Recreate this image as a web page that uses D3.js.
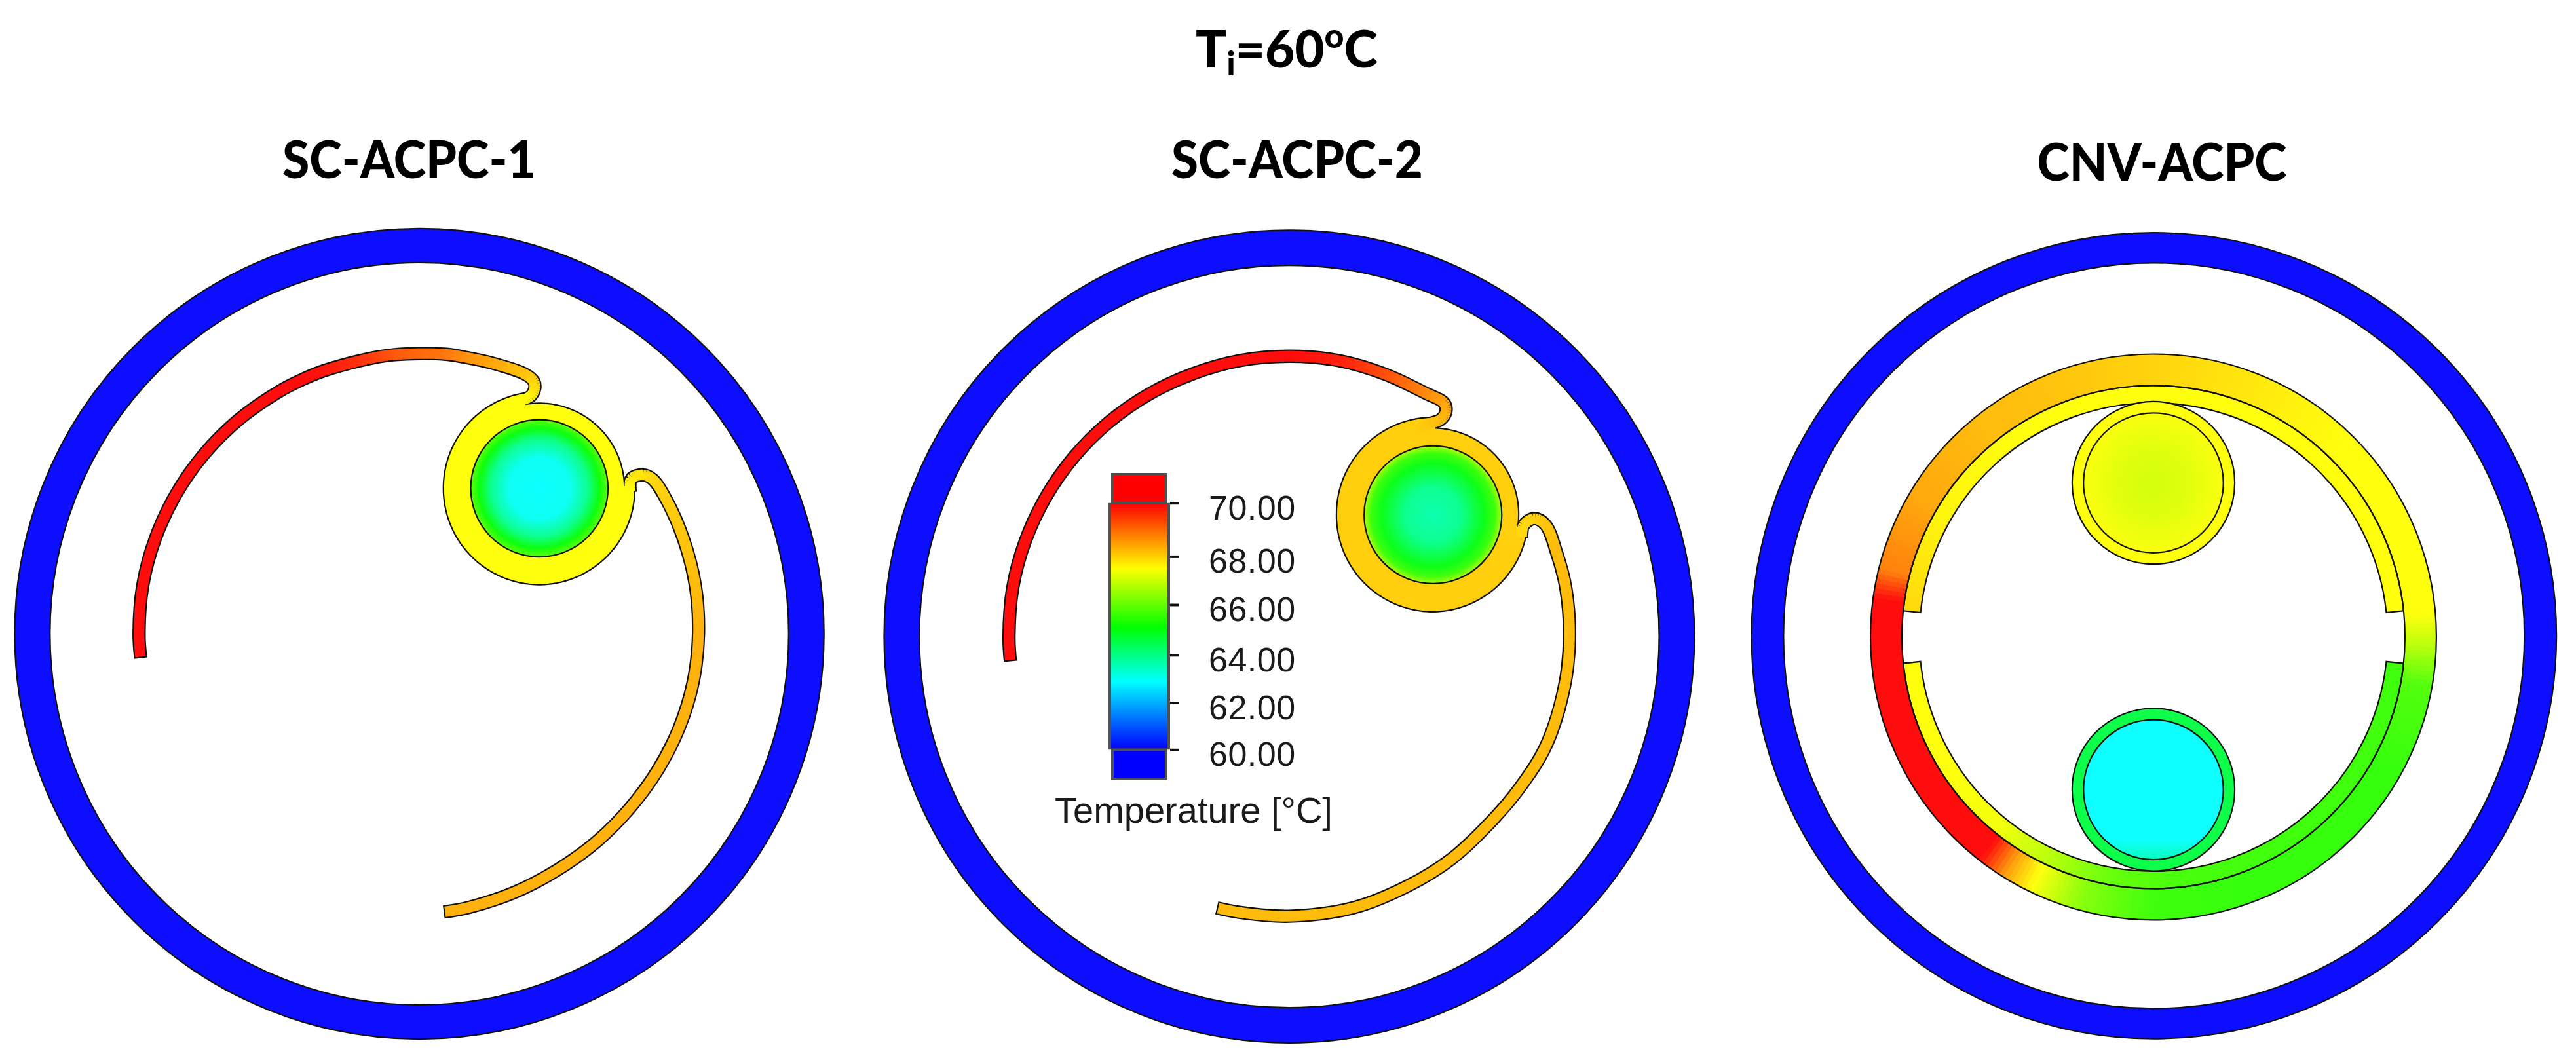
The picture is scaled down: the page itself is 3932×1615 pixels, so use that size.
<!DOCTYPE html>
<html><head><meta charset="utf-8">
<script src="https://cdn.jsdelivr.net/npm/d3@7"></script>
<style>html,body{margin:0;padding:0;background:#fff}svg{display:block}</style>
</head><body><svg id="c" width="3932" height="1615"></svg>
<script>
// ---------- text ----------
const panelTitles = ["SC-ACPC-1", "SC-ACPC-2", "CNV-ACPC"];
const legendTicks = [60, 62, 64, 66, 68, 70];
const legendTitle = "Temperature [°C]";
// ---------- temperature colour map ----------
const colourTemps = [60, 62.9, 65.1, 67.5, 70];
const colourNames = ["#0000ff", "#00ffff", "#00ff00", "#ffff00", "#ff0000"];
// ---------- geometry, in crop units (1568 = one panel crop) ----------
// outer cover: centre x, centre y, outer rx, outer ry, inner rx, inner ry
const coverP1 = [772, 784, 745, 749, 680, 686];
const coverP2 = [781.5, 789, 746, 751, 681, 686];
const coverP3 = [791, 787.5, 741, 745, 682, 689];
// fins about the cover centre: [degrees clockwise from top, radius, temperature]
const finP1Left = [[-95,515,70],[-90,516,70],[-80,517,70],[-70,517,70],[-60,517,70],[-50,517,70],[-40,517,70],[-30,517,70],[-25,517,70],[-20,517,69.9],[-10,517,69.5],[-5,518,69.2],[5,519,68.9],[10,518,68.6],[15,518,68.4],[22,518,68.1],[24.3,512,67.9],[25.1,501,67.8],[25,484.5,67.6],[23,467,67.5],[21.1,452,67.5]];
const finP1Right = [[56.1,468,67.5],[53.7,484,67.7],[54.5,506,67.8],[56.4,516,67.9],[61.3,518,68],[70,517,68.1],[80,516,68.2],[90,514,68.3],[100,512,68.3],[110,509,68.3],[120,506,68.3],[130,504,68.3],[140,504,68.3],[150,505,68.3],[160,509,68.3],[170,514,68.3],[175,516,68.3]];
const finP2Left = [[-95.1,515.5,70],[-90,516,70],[-80,517,70],[-70,517,70],[-60,517,70],[-50,517,70],[-40,517,70],[-30,517,70],[-20,517,70],[-10,518,70],[0,518,70],[10,518,69.8],[20,516,69.3],[29,515,68.7],[33.5,517,68.4],[34.8,505,68.3],[34.8,488,68.2],[33.3,471,68.1],[31.5,447,68]];
const finP2Right = [[67,465,67.9],[64.5,478,67.9],[64.2,501,68],[66.4,515,68.1],[72.6,516,68.2],[80,517,68.2],[90,516,68.2],[100,515,68.2],[113,514,68.2],[123.6,508,68.2],[133,505,68.2],[144,508,68.2],[154.6,510,68.2],[166.7,515,68.2],[180,517,68.2],[190,518,68.2],[194.9,519,68.2]];
// wrapped tube outline: [degrees clockwise from top, radius]
const wrapP1 = [[-9,157],[88,157],[88.01,176],[180,178],[270,177],[350.99,178],[351,157]];
const wrapP2 = [[2,160],[98,158],[98.01,176],[180,179],[270,178],[361.99,180],[362,160]];
// tube: centre x, centre y, inner radius, wrap temperature
const tubeP1 = [993, 515, 126.6, 67.5];
const tubeP2 = [1046, 564, 127, 68];
// water section: [relative radius, temperature]
const waterP1 = [[0,62.9],[0.45,63],[0.7,63.9],[0.88,65.1],[1,65.9]];
const waterP2 = [[0,63.6],[0.4,63.9],[0.75,65],[0.9,65.6],[1,66.7]];
// CNV receiver: centre, absorber radii, [degrees clockwise from top, temperature]
const cnvCentre = [790, 790];
const cnvAbsorberRadii = [464, 522];
const cnvFinRadii = [432, 464];
const cnvAbsorberField = [[0,67.95],[25,67.7],[45,67.5],[85,67.5],[92,66.8],[100,65.8],[120,65.5],[160,65.5],[180,65.6],[195,66.3],[206,67.5],[212,68.5],[218,70],[278,70],[284,68.8],[300,68.4],[320,68.2],[340,68.1],[360,67.95]];
const cnvFinField = [[-84,67.9],[-60,67.6],[-30,67.5],[84,67.5],[96,65.6],[150,65.6],[175,65.7],[190,66],[205,66.8],[220,67.4],[240,67.5],[264,67.5]];
const cnvFinArcs = [[-84,84],[96,264]];
// CNV tubes: centre x, centre y, outer r, inner r, wall temperature
const cnvTubeTop = [790, 505, 150, 129, 67.5];
const cnvTubeBottom = [790, 1072, 150, 129, 64.55];
const cnvWaterTop = [[0,67.05],[0.5,67.2],[1,67.45]];
const cnvWaterBottom = [[0,62.9],[0.85,62.9],[1,63.5]];
// legend tick pixel rows as they appear in the picture
const legendRows = [1144.3, 1072.5, 999.8, 923, 849.4, 767.7];

// ---------- scales ----------
const colour = d3.scaleLinear().domain(colourTemps).range(colourNames).interpolate(d3.interpolateRgb).clamp(true);
const field = t => d3.interpolateRgb(colour(t), "#ffffff")(0.05);
const panelX = [0, 1320, 2632].map(x0 => d3.scaleLinear().domain([0,1568]).range([x0, x0+1300]));
const panelY = d3.scaleLinear().domain([0,1568]).range([320, 320+1295]);
const rad = d3.scaleLinear().domain([0,1568]).range([0,1297.5]);
const radX = d3.scaleLinear().domain([0,1568]).range([0,1300]);
const radY = d3.scaleLinear().domain([0,1568]).range([0,1295]);
const legendY = d3.scaleLinear().domain(legendTicks).range(legendRows);

const svg = d3.select("#c");
const defs = svg.append("defs");
svg.append("rect").attr("width",3932).attr("height",1615).attr("fill","#fff");

const OUT = 2.2;
function radial(id, stops){
  const g = defs.append("radialGradient").attr("id",id);
  stops.forEach(s => g.append("stop").attr("offset",s[0]).attr("stop-color",field(s[1])));
  return `url(#${id})`;
}
function cover(g, c, px){
  g.append("ellipse").attr("cx",px(c[0])).attr("cy",panelY(c[1])).attr("rx",radX(c[2])).attr("ry",radY(c[3]))
    .attr("fill",field(60)).attr("stroke","#111").attr("stroke-width",OUT);
  g.append("ellipse").attr("cx",px(c[0])).attr("cy",panelY(c[1])).attr("rx",radX(c[4])).attr("ry",radY(c[5]))
    .attr("fill","#fff").attr("stroke","#111").attr("stroke-width",OUT);
}
// polar fin knot -> [page x, page y, temperature]
function finPoints(knots, cov, px){
  return knots.map(k=>{
    const p = d3.pointRadial(k[0]*Math.PI/180, k[1]);
    return [px(cov[0]+p[0]), panelY(cov[1]+p[1]), k[2]];
  });
}
const finLine = d3.line().x(d=>d[0]).y(d=>d[1]).curve(d3.curveCatmullRom.alpha(0.5));
function finUnder(g, pts, w){
  g.append("path").attr("d",finLine(pts)).attr("fill","none").attr("stroke","#111")
    .attr("stroke-width",w+OUT*2).attr("stroke-linejoin","round");
}
function finColour(g, pts, w){
  const p = g.append("path").attr("d",finLine(pts)).attr("fill","none").attr("stroke","none");
  const node = p.node(), L = node.getTotalLength();
  let acc = 0; const cum = pts.map((d,i)=>{ if(i) acc += Math.hypot(d[0]-pts[i-1][0], d[1]-pts[i-1][1]); return acc; });
  const tAt = d3.scaleLinear().domain(cum.map(c=>c/acc)).range(pts.map(d=>d[2]));
  const step = 3, segs = d3.range(OUT, L-OUT, step);
  g.selectAll(null).data(segs).join("line")
    .each(function(s){
      const a = node.getPointAtLength(s), b = node.getPointAtLength(Math.min(s+step+0.8, L-OUT));
      d3.select(this).attr("x1",a.x).attr("y1",a.y).attr("x2",b.x).attr("y2",b.y)
        .attr("stroke",field(tAt(s/L))).attr("stroke-width",w);
    });
  p.remove();
}
function wrappedTube(g, tube, wrap, px){
  const rAt = d3.scaleLinear().domain(wrap.map(d=>d[0])).range(wrap.map(d=>d[1]));
  const a0 = wrap[0][0], a1 = wrap[wrap.length-1][0];
  const angles = d3.range(a0, a1, 1).concat(wrap.map(d=>d[0])).sort(d3.ascending);
  const line = d3.lineRadial().angle(a=>a*Math.PI/180).radius(a=>rad(rAt(a))).curve(d3.curveLinear);
  g.append("path").attr("transform",`translate(${px(tube[0])},${panelY(tube[1])})`)
    .attr("d",line(angles)+"Z").attr("fill",field(tube[3])).attr("stroke","#111").attr("stroke-width",OUT);
}
function waterCircle(g, tube, px, fill){
  g.append("circle").attr("cx",px(tube[0])).attr("cy",panelY(tube[1])).attr("r",rad(tube[2]))
    .attr("fill",fill).attr("stroke","#111").attr("stroke-width",OUT);
}
function scPanel(i, cov, left, right, wrap, tube, water, w){
  const px = panelX[i], g = svg.append("g");
  const L = finPoints(left, cov, px), R = finPoints(right, cov, px);
  cover(g, cov, px);
  finUnder(g, L, w); finUnder(g, R, w);
  wrappedTube(g, tube, wrap, px);
  finColour(g, L, w); finColour(g, R, w);
  waterCircle(g, tube, px, radial("water"+i, water));
}
scPanel(0, coverP1, finP1Left, finP1Right, wrapP1, tubeP1, waterP1, 16);
scPanel(1, coverP2, finP2Left, finP2Right, wrapP2, tubeP2, waterP2, 16);

// ---------- CNV panel ----------
(function(){
  const px = panelX[2], g = svg.append("g");
  cover(g, coverP3, px);
  const gc = g.append("g").attr("transform",`translate(${px(cnvCentre[0])},${panelY(cnvCentre[1])})`);
  const deg = d => d*Math.PI/180;
  const arc = d3.arc();
  const aT = d3.scaleLinear().domain(cnvAbsorberField.map(d=>d[0])).range(cnvAbsorberField.map(d=>d[1]));
  const fT = d3.scaleLinear().domain(cnvFinField.map(d=>d[0])).range(cnvFinField.map(d=>d[1]));
  gc.selectAll(null).data(d3.range(0,360,1)).join("path")
    .attr("d",a=>arc({innerRadius:rad(cnvAbsorberRadii[0]),outerRadius:rad(cnvAbsorberRadii[1]),startAngle:deg(a),endAngle:deg(a+1.25)}))
    .attr("fill",a=>field(aT(a+0.5)));
  cnvFinArcs.forEach(span=>{
    gc.selectAll(null).data(d3.range(span[0],span[1],1)).join("path")
      .attr("d",a=>arc({innerRadius:rad(cnvFinRadii[0]),outerRadius:rad(cnvFinRadii[1]),startAngle:deg(a),endAngle:deg(Math.min(a+1.25,span[1]))}))
      .attr("fill",a=>field(fT(a+0.5)));
    gc.append("path").attr("d",arc({innerRadius:rad(cnvFinRadii[0]),outerRadius:rad(cnvFinRadii[1]),startAngle:deg(span[0]),endAngle:deg(span[1])}))
      .attr("fill","none").attr("stroke","#111").attr("stroke-width",OUT);
  });
  cnvAbsorberRadii.forEach(r=>gc.append("circle").attr("r",rad(r)).attr("fill","none").attr("stroke","#111").attr("stroke-width",OUT));
  [[cnvTubeTop,cnvWaterTop,"wt"],[cnvTubeBottom,cnvWaterBottom,"wb"]].forEach(([t,w,id])=>{
    g.append("circle").attr("cx",px(t[0])).attr("cy",panelY(t[1])).attr("r",rad(t[2]))
      .attr("fill",field(t[4])).attr("stroke","#111").attr("stroke-width",OUT);
    let fill;
    if(id==="wt") fill = radial(id,w);
    else { const lg = defs.append("linearGradient").attr("id",id).attr("x1",0).attr("x2",0).attr("y1",0).attr("y2",1);
      w.forEach(s=>lg.append("stop").attr("offset",s[0]).attr("stop-color",field(s[1]))); fill=`url(#${id})`; }
    waterCircle(g,[t[0],t[1],t[3]],px,fill);
  });
})();

// ---------- legend ----------
(function(){
  const g = svg.append("g"), grey = "#505050";
  const barL = 1696, barR = 1782, yT = legendY(70), yB = legendY(60);
  const lg = defs.append("linearGradient").attr("id","lg").attr("x1",0).attr("x2",0).attr("y1",0).attr("y2",1);
  colourTemps.slice().reverse().forEach(t=>lg.append("stop").attr("offset",(legendY(t)-yT)/(yB-yT)).attr("stop-color",colour(t)));
  g.append("rect").attr("x",barL-4).attr("y",yT).attr("width",barR-barL+8).attr("height",yB-yT).attr("fill",grey);
  g.append("rect").attr("x",barL).attr("y",yT).attr("width",barR-barL).attr("height",yB-yT).attr("fill","url(#lg)");
  g.append("rect").attr("x",barL+2).attr("y",724).attr("width",barR-barL-4).attr("height",yT-724).attr("fill",colour(70)).attr("stroke",grey).attr("stroke-width",4);
  g.append("rect").attr("x",barL+2).attr("y",yB).attr("width",barR-barL-4).attr("height",1189-yB).attr("fill",colour(60)).attr("stroke",grey).attr("stroke-width",4);
  const ax = g.append("g").attr("transform",`translate(1786,0)`)
    .call(d3.axisRight(legendY).tickValues(legendTicks).tickFormat(d3.format(".2f")).tickSize(14).tickPadding(45));
  ax.select(".domain").remove();
  ax.selectAll(".tick line").attr("stroke","#111").attr("stroke-width",4);
  ax.selectAll(".tick text").attr("dy",24.5).attr("fill","#1a1a1a")
    .style("font-family","'Liberation Sans'").style("font-size","52px").style("letter-spacing","0.5px");
  g.append("text").attr("x",1610).attr("y",1256).text(legendTitle).attr("fill","#1a1a1a")
    .style("font-family","'Liberation Sans'").style("font-size","56px");
})();

// ---------- titles ----------
const titleG = svg.append("g").style("font-family","Lato").style("font-weight",900).attr("fill","#000");
const mainTitle = titleG.append("text").attr("x",1825).attr("y",103).style("font-size","78px");
mainTitle.append("tspan").text("T");
mainTitle.append("tspan").text("i").attr("dy",12).style("font-size","52px");
mainTitle.append("tspan").text("=60").attr("dy",-12);
mainTitle.append("tspan").text("o").attr("dy",-30).style("font-size","52px");
mainTitle.append("tspan").text("C").attr("dy",30);
const titleLengths = [387, 384, 381];
titleG.selectAll(null).data(panelTitles).join("text")
  .attr("x",(d,i)=>[624.5,1980,3300][i]).attr("y",(d,i)=>[272,272,276][i]).attr("text-anchor","middle")
  .attr("textLength",(d,i)=>titleLengths[i]).attr("lengthAdjust","spacingAndGlyphs")
  .style("font-size","80px").text(d=>d);
</script></body></html>
